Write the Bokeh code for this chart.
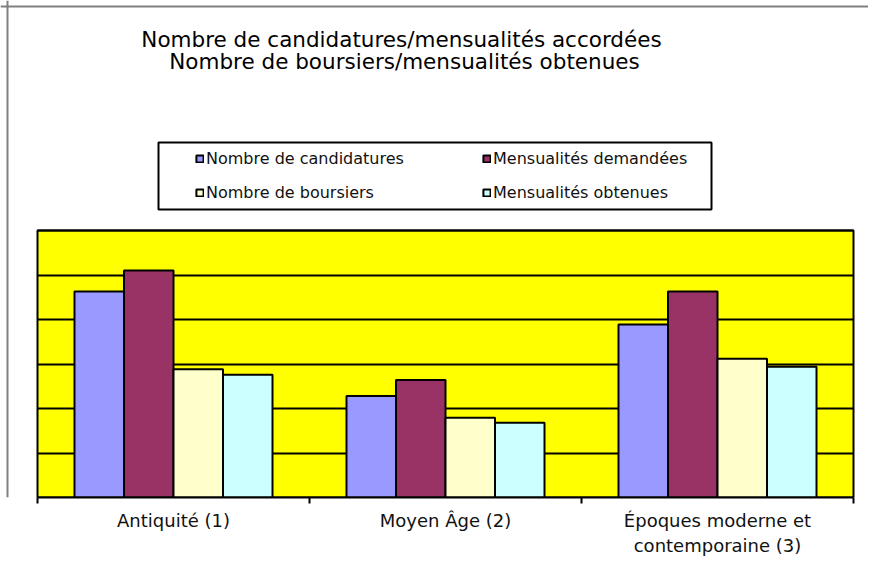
from bokeh.plotting import figure
from bokeh.models import (ColumnDataSource, Range1d, FixedTicker, LinearAxis, Grid,
                          Legend, LegendItem, Label, BoxAnnotation, Span)
from bokeh.transform import dodge
from bokeh.embed import file_html
from bokeh.resources import INLINE

# ---- data ----
categories = ["Antiquité (1)", "Moyen Âge (2)", "Époques moderne et\ncontemporaine (3)"]
series_names = ["Nombre de candidatures", "Mensualités demandées",
                "Nombre de boursiers", "Mensualités obtenues"]
candidatures = [46.3, 22.8, 38.9]
mensualites_demandees = [51.0, 26.4, 46.3]
boursiers = [28.8, 17.9, 31.2]
mensualites_obtenues = [27.6, 16.8, 29.4]
grid_values = [10, 20, 30, 40, 50, 60]
y_max = 60
title_lines = ["Nombre de candidatures/mensualités accordées",
               "Nombre de boursiers/mensualités obtenues"]

# ---- styles / layout ----
colors = ["#9999FF", "#993366", "#FFFFCC", "#CCFFFF"]
offsets = [-0.273, -0.091, 0.091, 0.273]
bar_w = 0.182
W, H = 868, 582
plot_left, plot_right, plot_top, plot_bottom = 37, 853, 230, 497
n = len(categories)
px_x = (plot_right - plot_left) / n
px_y = (plot_bottom - plot_top) / y_max

centers = [i + 0.5 for i in range(n)]
src = ColumnDataSource(dict(x=centers, s0=candidatures, s1=mensualites_demandees,
                            s2=boursiers, s3=mensualites_obtenues))

p = figure(width=W, height=H, output_backend="svg", toolbar_location=None,
           x_range=Range1d(-plot_left / px_x, n + (W - plot_right) / px_x),
           y_range=Range1d(0, y_max + plot_top / px_y),
           x_axis_location=None, y_axis_location=None,
           min_border_left=0, min_border_right=0, min_border_top=0,
           min_border_bottom=H - plot_bottom)
p.background_fill_color = "white"
p.border_fill_color = "white"
p.outline_line_color = None
for g in list(p.grid):
    g.visible = False

# yellow plot area
p.add_layout(BoxAnnotation(left=0, right=n, bottom=0, top=y_max,
                           fill_color="#FFFF00", fill_alpha=1,
                           line_color="black", line_alpha=1, line_width=2, level="underlay"))
p.add_layout(Grid(dimension=1, ticker=FixedTicker(ticks=grid_values), cross_bounds=(0, n),
                  grid_line_color="black", grid_line_width=2, level="underlay"))

renderers = []
for i, key in enumerate(["s0", "s1", "s2", "s3"]):
    r = p.vbar(x=dodge("x", offsets[i], range=p.x_range), top=key, width=bar_w, source=src,
               fill_color=colors[i], line_color="black", line_width=2)
    renderers.append(r)

xaxis = LinearAxis(ticker=FixedTicker(ticks=centers, minor_ticks=list(range(n + 1))),
                   bounds=(0, n),
                   major_label_overrides={c: lab for c, lab in zip(centers, categories)},
                   major_tick_in=0, major_tick_out=0,
                   minor_tick_in=0, minor_tick_out=6, minor_tick_line_color="black",
                   minor_tick_line_width=2,
                   axis_line_color="black", axis_line_width=2,
                   major_label_text_font="DejaVu Sans", major_label_text_font_size="18px",
                   major_label_text_color="#111111", major_label_standoff=6)
p.add_layout(xaxis, "below")

order = [0, 2, 1, 3]
items = [LegendItem(label=series_names[k], renderers=[renderers[k]]) for k in order]
legend = Legend(items=items, location=(195, plot_bottom - 202), ncols=2,
                glyph_width=9, glyph_height=9, label_standoff=2,
                label_width=262, label_height=20, spacing=14, padding=0, margin=0,
                border_line_color=None, background_fill_alpha=0,
                label_text_font="DejaVu Sans", label_text_font_size="16px",
                label_text_color="#111111")
p.add_layout(legend, "center")

# legend frame
p.add_layout(BoxAnnotation(left=158, right=711, bottom=plot_bottom - 209, top=plot_bottom - 142,
                           left_units="screen", right_units="screen",
                           top_units="screen", bottom_units="screen",
                           fill_alpha=0, line_color="black", line_alpha=1, line_width=2,
                           level="overlay"))
# outer chart border (left and top edges only)
p.add_layout(Span(location=7, location_units="screen", dimension="height",
                  line_color="#808080", line_width=2))
p.add_layout(Span(location=plot_bottom - 6, location_units="screen", dimension="width",
                  line_color="#808080", line_width=2))

for txt, cx, cy in zip(title_lines, [401, 404], [39, 61]):
    p.add_layout(Label(x=cx, y=plot_bottom - cy, x_units="screen", y_units="screen", text=txt,
                       text_align="center", text_baseline="middle",
                       text_font="DejaVu Sans", text_font_size="21.5px", text_color="black"))

open("out.html", "w").write(file_html(p, INLINE))
